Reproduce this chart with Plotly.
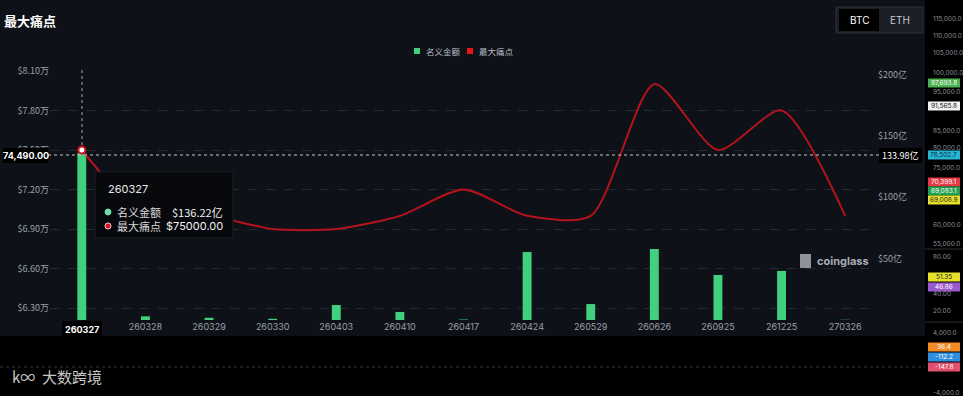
import plotly.graph_objects as go

# ---------------- data ----------------
expiries = ["260327", "260328", "260329", "260330", "260403", "260410", "260417",
            "260424", "260529", "260626", "260925", "261225", "270326"]
notional_yi = [136.22, 3.0, 1.8, 1.0, 12.2, 6.5, 0.4, 55.4, 13.0, 57.9, 36.7, 40.0, 0.2]
max_pain = [75000, 70000, 70000, 69000, 69000, 70000, 72000, 70000, 70000, 80000, 75000, 78000, 70000]

left_ticks = [63000, 66000, 69000, 72000, 75000, 78000, 81000]
left_tick_text = ["$6.30万", "$6.60万", "$6.90万", "$7.20万", "$7.50万", "$7.80万", "$8.10万"]
right_ticks = [50, 100, 150, 200]
right_tick_text = ["$50亿", "$100亿", "$150亿", "$200亿"]

side_scale = [("115,000.0", 19), ("110,000.0", 36), ("105,000.0", 53), ("100,000.0", 73),
              ("95,000.0", 92), ("85,000.0", 131), ("80,000.0", 148), ("75,000.0", 168),
              ("60,000.0", 225), ("55,000.0", 244), ("80.00", 257), ("40.00", 294),
              ("20.00", 311), ("4,000.0", 333), ("-4,000.0", 393)]
side_tags = [("97,693.8", 83, "#4caf50", "white"), ("91,565.8", 106, "#f2f2f2", "#111"),
             ("78,502.7", 155, "#26b5d4", "#0b2a33"), ("70,399.1", 182, "#e53945", "white"),
             ("69,083.1", 191, "#22a04f", "white"), ("69,008.9", 200, "#e6e02a", "#222"),
             ("51.35", 277, "#e6e02a", "#222"), ("46.86", 287, "#9b59d0", "white"),
             ("36.4", 347, "#f08a24", "white"), ("-112.2", 357, "#2f8fe0", "white"),
             ("-147.8", 367, "#e0506e", "white")]

# ---------------- geometry helpers (pixels -> paper) ----------------
W, H = 963, 396
L, R, T, B = 50, 86, 70, 76
PW, PH = W - L - R, H - T - B


def X(px):
    return (px - L) / PW


def Y(py):
    return (H - B - py) / PH


BG = "#0e1118"
FONT = "Inter, Noto Sans CJK SC, sans-serif"
CJK = "Noto Sans CJK SC, sans-serif"
GRAY = "#9aa0a8"

shapes = []
ann = []


def rect(x0, y0, x1, y1, fill, line=None, layer="above"):
    shapes.append(dict(type="rect", xref="paper", yref="paper", x0=X(x0), x1=X(x1), y0=Y(y1), y1=Y(y0),
                       fillcolor=fill, line=line if line else dict(width=0), layer=layer))


def hline(x0, x1, y, color, dash="solid", width=1):
    shapes.append(dict(type="line", xref="paper", yref="paper", x0=X(x0), x1=X(x1), y0=Y(y), y1=Y(y),
                       line=dict(color=color, width=width, dash=dash)))


def text(px, py, s, size, color, anchor="center", family=FONT):
    ann.append(dict(x=X(px), y=Y(py), xref="paper", yref="paper", text=s, showarrow=False,
                    xanchor=anchor, yanchor="middle", font=dict(size=size, color=color, family=family)))


fig = go.Figure()
fig.add_trace(go.Bar(x=expiries, y=notional_yi, name="名义金额", marker_color="#41d07e",
                     marker_line_width=0, yaxis="y"))
fig.add_trace(go.Scatter(x=expiries, y=max_pain, name="最大痛点", mode="lines",
                         line=dict(color="#b3141c", width=2, shape="spline", smoothing=0.7),
                         yaxis="y2"))
fig.add_trace(go.Scatter(x=[expiries[0]], y=[max_pain[0]], mode="markers", yaxis="y2",
                         marker=dict(size=7, color="#ffffff", line=dict(color="#d0141c", width=2)),
                         showlegend=False))

# the hovered category's label is drawn separately in a highlighted box
x_tick_text = [""] + expiries[1:]

fig.update_layout(
    width=W, height=H,
    margin=dict(l=L, r=R, t=T, b=B, autoexpand=False),
    paper_bgcolor=BG, plot_bgcolor=BG,
    font=dict(family=FONT, color=GRAY, size=9),
    showlegend=False,
    bargap=0.86,
    xaxis=dict(type="category", range=[-0.5, len(expiries) - 0.5], tickvals=expiries,
               ticktext=x_tick_text, showgrid=False, zeroline=False,
               showline=False, automargin=False, tickfont=dict(size=9, color=GRAY), ticks=""),
    yaxis=dict(side="right", range=[0, 203.8], tickvals=right_ticks, ticktext=right_tick_text,
               showgrid=False, zeroline=False, showline=False, ticks="", automargin=False,
               tickfont=dict(size=9, color=GRAY, family=CJK)),
    yaxis2=dict(side="left", overlaying="y", range=[62089, 81076], tickvals=left_ticks,
                ticktext=left_tick_text, showgrid=True, gridcolor="#262a33", griddash="dash",
                gridwidth=1, zeroline=False, showline=False, ticks="", automargin=False,
                tickfont=dict(size=9, color=GRAY, family=CJK)),
)

# right price strip + bottom indicator band
rect(925, 0, W, H, "#000000", layer="below")
rect(0, 336, W, H, "#000000", layer="below")
hline(925, W, 249, "#2a2d33")
hline(925, W, 322, "#2a2d33")
hline(0, 925, 367, "#3a3d44", dash="dot")
for s, py in side_scale:
    text(931, py, s, 6.5, "#8a8f96", anchor="left")
for s, py, bg, fg in side_tags:
    rect(928, py - 4.5, 960, py + 4.5, bg)
    text(944, py, s, 6.5, fg)

# crosshair
hline(48, 880, 155, "#c8c8c8", dash="dot")
shapes.append(dict(type="line", xref="paper", yref="paper", x0=X(82), x1=X(82), y0=Y(70), y1=Y(147),
                   line=dict(color="#a8a8a8", width=1, dash="dot")))
rect(3, 148, 48, 163, "#000000")
text(25.5, 155.5, "<b>74,490.00</b>", 9, "#ffffff")
rect(879, 148, 922, 163, "#000000")
text(900.5, 155.5, "133.98亿", 9, "#ffffff", family=CJK)
rect(62, 321, 102, 338, "#000000")
text(82, 329.5, "<b>" + expiries[0] + "</b>", 9, "#ffffff")

# tooltip
rect(95, 172, 233, 238, "#08090c", line=dict(color="#1c1f26", width=1))
text(106, 189, expiries[0], 11, "#e8e8e8", anchor="left")
shapes.append(dict(type="circle", xref="paper", yref="paper", x0=X(105), x1=X(111), y0=Y(215), y1=Y(209),
                   fillcolor="#6fdcae", line=dict(color="#6fdcae", width=1)))
shapes.append(dict(type="circle", xref="paper", yref="paper", x0=X(105), x1=X(111), y0=Y(229), y1=Y(223),
                   fillcolor="#d0141c", line=dict(color="#f0c8c8", width=1)))
text(115, 212, "名义金额", 11, "#d8d8d8", anchor="left", family=CJK)
text(115, 226, "最大痛点", 11, "#d8d8d8", anchor="left", family=CJK)
text(225, 212, "$%.2f亿" % notional_yi[0], 11, "#f0f0f0", anchor="right", family=CJK)
text(225, 226, "$%.2f" % max_pain[0], 11, "#f0f0f0", anchor="right")

# legend
rect(414, 48, 420, 54, "#41d07e")
text(424, 51, "名义金额", 8.5, "#b8bcc2", anchor="left", family=CJK)
rect(467, 48, 473, 54, "#e8141c")
text(477, 51, "最大痛点", 8.5, "#b8bcc2", anchor="left", family=CJK)

# title
text(2, 20, "<b>最大痛点</b>", 13, "#ffffff", anchor="left", family=CJK)

# BTC / ETH toggle
rect(836, 7, 923, 33, "#1b1e25", line=dict(color="#2c3038", width=1))
rect(839, 9, 879, 31, "#000000")
text(859, 20, "BTC", 10, "#ffffff")
text(900, 20, "ETH", 10, "#c8ccd2")

# watermarks
rect(800, 254, 811, 268, "#8e9299")
text(815, 261, "<b>coinglass</b>", 11, "#a9adb3", anchor="left")
text(10, 376, "k∞  大数跨境", 15, "#c8c8c8", anchor="left", family=CJK)

fig.update_layout(shapes=shapes, annotations=ann)
fig.write_html("out.html",
               config={"displayModeBar": False, "staticPlot": True},
               post_script="document.body.style.margin='0';document.body.style.overflow='hidden';")
